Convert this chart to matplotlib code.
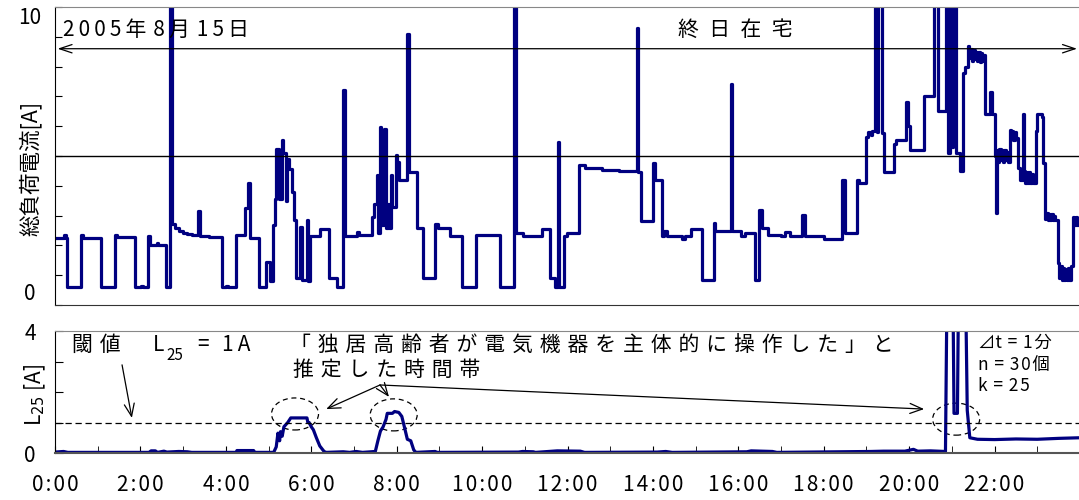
import numpy as np
import matplotlib.pyplot as plt
from matplotlib.patches import Ellipse

plt.rcParams['font.family'] = ['Noto Sans CJK JP', 'DejaVu Sans']

# 総負荷電流 [A] (time in hours, held until next point)
t1 = [0.00, 0.20, 0.25, 0.29, 0.61, 0.66, 1.07, 1.40, 1.45, 1.87,
      2.02, 2.06, 2.18, 2.22, 2.38, 2.42, 2.61, 2.69, 2.73, 2.80,
      2.90, 3.00, 3.10, 3.20, 3.35, 3.39, 3.60, 3.90]
a1 = [2.25, 2.35, 2.25, 0.60, 2.35, 2.25, 0.60, 2.35, 2.28, 0.60,
      0.65, 0.60, 2.33, 2.00, 2.08, 2.00, 0.60, 12.0, 2.72, 2.60,
      2.50, 2.42, 2.38, 2.34, 3.16, 2.30, 2.27, 0.60]

t2 = [4.00, 4.05, 4.24, 4.44, 4.53, 4.57, 4.77, 4.94, 5.03, 5.10,
      5.14, 5.18, 5.24, 5.31, 5.35, 5.40, 5.43, 5.47, 5.55, 5.60,
      5.64, 5.74, 5.78, 5.90, 5.93, 5.96, 6.20, 6.41, 6.60, 6.75,
      6.78, 7.08, 7.12]
a2 = [0.65, 0.60, 2.35, 3.25, 4.10, 2.25, 0.60, 1.45, 0.80, 2.70,
      3.55, 5.23, 3.55, 5.54, 5.10, 3.50, 4.90, 4.57, 3.80, 2.85,
      0.89, 2.62, 0.85, 2.85, 0.80, 2.30, 2.55, 0.89, 0.60, 7.20,
      2.30, 2.45, 2.35]

t3 = [7.43, 7.47, 7.53, 7.57, 7.60, 7.64, 7.70, 7.74, 7.79, 7.83,
      7.87, 7.90, 7.98, 8.01, 8.05, 8.25, 8.28, 8.47, 8.61, 8.90,
      8.96, 9.25, 9.53, 9.86, 10.43, 10.75, 10.79, 10.95, 11.40, 11.60,
      11.70, 11.77, 11.80, 11.92, 11.98]
a3 = [2.95, 3.40, 4.37, 2.40, 5.97, 2.70, 5.90, 2.60, 3.40, 2.60,
      4.37, 3.30, 5.03, 4.80, 4.20, 9.10, 4.45, 2.60, 0.89, 2.73,
      2.60, 2.30, 0.60, 2.35, 0.60, 12.0, 2.40, 2.30, 2.55, 0.89,
      0.60, 5.47, 0.60, 2.30, 2.40]

t4 = [12.27, 12.40, 12.80, 13.20, 13.62, 13.66, 13.72, 14.00, 14.05, 14.21,
      14.27, 14.32, 14.68, 14.76, 14.90, 15.15, 15.42, 15.46, 15.82, 15.85,
      16.06, 16.15, 16.40, 16.49, 16.55, 16.70, 17.00, 17.10, 17.20, 17.50,
      17.56, 18.00]
a4 = [4.70, 4.60, 4.52, 4.48, 9.30, 4.45, 2.83, 4.75, 4.20, 2.30,
      2.50, 2.30, 2.22, 2.30, 2.55, 0.85, 2.76, 2.50, 7.40, 2.50,
      2.30, 2.40, 0.85, 3.20, 2.60, 2.35, 2.30, 2.45, 2.30, 3.03,
      2.30, 2.20]

t5 = [18.43, 18.49, 18.78, 18.82, 19.00, 19.04, 19.10, 19.14, 19.20, 19.24,
      19.27, 19.37, 19.42, 19.65, 19.70, 19.92, 19.97, 20.02, 20.35, 20.57,
      20.67, 20.86, 20.92, 20.95, 21.00, 21.03, 21.10, 21.18, 21.25, 21.30]
a5 = [4.20, 2.43, 4.20, 4.10, 5.65, 5.80, 5.70, 5.85, 12.0, 5.80,
      12.0, 5.77, 4.47, 5.40, 5.53, 6.80, 6.00, 5.20, 7.00, 12.0,
      6.50, 12.0, 5.10, 12.0, 5.30, 12.0, 5.10, 4.50, 7.80, 8.00]

t6 = [21.38, 21.41, 21.44, 21.47, 21.50, 21.53, 21.56, 21.59, 21.62, 21.65,
      21.68, 21.71, 21.74, 21.78, 21.90, 21.93, 22.00, 22.03, 22.05, 22.08,
      22.11, 22.14, 22.17, 22.20, 22.23, 22.26, 22.29, 22.32, 22.35, 22.38,
      22.41, 22.44, 22.47, 22.50, 22.55, 22.60, 22.66, 22.69, 22.72, 22.75,
      22.78, 22.81, 22.84, 22.88, 22.91, 22.96, 23.00, 23.10, 23.14, 23.18,
      23.21, 23.24, 23.27, 23.30, 23.33, 23.36, 23.39, 23.42, 23.48, 23.51,
      23.54, 23.57, 23.60, 23.63, 23.66, 23.69, 23.72, 23.75, 23.78, 23.84,
      23.87, 23.90, 23.93, 23.96, 24.00]
a6 = [8.70, 8.30, 8.60, 8.20, 8.55, 8.25, 8.50, 8.20, 8.50, 8.15,
      8.45, 8.20, 8.40, 6.40, 7.15, 6.40, 5.00, 3.10, 5.20, 4.80,
      5.25, 4.85, 5.20, 4.80, 5.20, 4.85, 5.15, 4.80, 5.87, 5.60,
      5.85, 5.55, 5.80, 5.60, 4.60, 4.20, 6.40, 4.50, 4.10, 4.45,
      4.10, 4.45, 4.10, 4.40, 4.10, 5.85, 6.40, 6.30, 4.75, 2.90,
      3.10, 2.85, 3.05, 2.85, 3.05, 2.85, 3.00, 2.85, 1.40, 0.90,
      1.30, 0.85, 1.25, 0.85, 1.20, 0.85, 1.25, 0.85, 1.30, 2.95,
      2.70, 2.95, 2.70, 2.90, 2.75]

# L25 [A]
t_l25 = [0.00, 0.20, 0.30, 2.20, 2.25, 2.35, 2.40, 2.55, 2.62, 2.90,
         3.10, 3.20, 4.24, 4.26, 4.65, 4.68, 5.12, 5.18, 5.22, 5.26,
         5.28, 5.32, 5.36, 5.45, 5.52, 5.90, 5.92, 5.95, 6.00, 6.05,
         6.12, 6.20, 6.30, 6.35, 6.75, 6.90, 7.05, 7.20, 7.50, 7.56,
         7.62, 7.68, 7.75, 7.78, 7.90, 7.95, 8.05, 8.12, 8.18, 8.25,
         8.33, 8.40, 8.45, 8.90, 8.95, 10.85, 10.95, 11.20, 11.25, 11.76,
         12.30, 12.40, 14.10, 14.30, 14.45, 16.20, 16.30, 16.80, 16.90, 19.10,
         19.40, 19.90, 20.10, 20.20, 20.50, 20.85, 20.88, 21.03, 21.05, 21.13,
         21.15, 21.33, 21.36, 21.42, 21.60, 22.00, 22.50, 23.00, 23.50, 24.00]
l25 = [0.03, 0.05, 0.02, 0.02, 0.07, 0.07, 0.02, 0.06, 0.03, 0.05,
       0.04, 0.02, 0.02, 0.08, 0.08, 0.02, 0.02, 0.20, 0.65, 0.40,
       0.70, 0.55, 0.86, 1.00, 1.15, 1.15, 1.00, 1.00, 0.86, 0.76,
       0.50, 0.23, 0.05, 0.02, 0.04, 0.02, 0.05, 0.02, 0.05, 0.40,
       0.72, 0.85, 1.10, 1.30, 1.30, 1.36, 1.33, 1.20, 0.86, 0.45,
       0.40, 0.10, 0.02, 0.05, 0.02, 0.03, 0.05, 0.04, 0.02, 0.07,
       0.06, 0.02, 0.03, 0.05, 0.02, 0.04, 0.07, 0.05, 0.02, 0.05,
       0.06, 0.06, 0.12, 0.06, 0.07, 0.05, 4.50, 4.50, 1.30, 1.30,
       4.50, 4.50, 1.40, 0.50, 0.45, 0.44, 0.46, 0.45, 0.48, 0.50]

threshold = 1.0
hour_labels = ['%d:00' % h for h in range(0, 24, 2)]
# marked periods: (centre hour, centre L25)
marks = [(5.62, 1.28), (7.93, 1.25), (21.10, 1.11)]

t_total = t1 + t2 + t3 + t4 + t5 + t6
i_total = a1 + a2 + a3 + a4 + a5 + a6

navy = '#000080'
thin = '\u2009'
hair = '\u200a'
mid = '\u2004'


def spaced(s, gap):
    return gap.join(s)


fig = plt.figure(figsize=(10.79, 5.0), dpi=100)
ax1 = fig.add_axes([55/1079, 195/500, 1025/1079, 298/500])
ax2 = fig.add_axes([55/1079, 47/500, 1025/1079, 122/500])

# top panel
ax1.plot(t_total, i_total, drawstyle='steps-post', color=navy, lw=2.3)
ax1.axhline(5, color='black', lw=1)
ax1.set_xlim(0, 24)
ax1.set_ylim(0, 10)
ax1.set_xticks([])
ax1.set_yticks(range(11))
ax1.set_yticklabels(['0'] + [''] * 9 + ['10'])
ax1.tick_params(axis='y', direction='in', length=5, pad=18, labelsize=15)
for lab in ax1.get_yticklabels():
    lab.set_ha('center')
ax1.get_yticklabels()[0].set_va('bottom')
ax1.get_yticklabels()[-1].set_va('top')
ax1.spines['right'].set_visible(False)
ax1.spines['top'].set_color('#888888')
ax1.spines['bottom'].set_color('#333333')

ax1.annotate('', xy=(0.06, 8.6), xytext=(23.93, 8.6),
             arrowprops=dict(arrowstyle='<->, head_length=0.45, head_width=0.15',
                             mutation_scale=20, color='black', lw=0.9,
                             shrinkA=0, shrinkB=0))
date_txt = spaced('2005年', thin) + mid + spaced('8月', thin) + mid + spaced('15日', thin)
ax1.text(0.19, 9.23, date_txt, fontsize=15, ha='left', va='center')
ax1.text(15.93, 9.23, spaced('終日在宅', '\u2002'), fontsize=15,
         ha='center', va='center')

fig.text(30/1079, 1 - 168/500, '総負荷電流[A]', rotation=90, fontsize=15.5,
         ha='center', va='center')

# bottom panel
ax2.plot(t_l25, l25, color=navy, lw=2.3)
ax2.axhline(threshold, color='black', lw=0.9, ls=(0, (5, 3)))
ax2.set_xlim(0, 24)
ax2.set_ylim(0, 4)
ax2.set_yticks(range(5))
ax2.set_yticklabels(['0', '', '', '', '4'])
ax2.set_xticks(range(0, 24, 2))
ax2.set_xticklabels([spaced(s, hair) for s in hour_labels])
ax2.set_xticks(range(0, 25), minor=True)
ax2.tick_params(axis='y', direction='in', length=6, pad=18, labelsize=15)
ax2.tick_params(axis='x', which='both', direction='in', length=5, pad=15,
                labelsize=15)
for lab in ax2.get_yticklabels():
    lab.set_ha('center')
ax2.spines['right'].set_visible(False)
ax2.spines['top'].set_color('#888888')
ax2.spines['bottom'].set_color('#555555')
ax2.spines['bottom'].set_linewidth(1.5)

fig.text(35/1079, 1 - 395/500, 'L$_{25}$ [A]', rotation=90, fontsize=15,
         ha='center', va='center')

for cx, cy in marks:
    ax2.add_patch(Ellipse((cx, cy), 1.1, 1.05, fill=False, color='black',
                          lw=0.9, ls=(0, (4, 3))))

ax2.text(0.40, 3.54, spaced('閾値', mid), fontsize=15, va='center')
ax2.text(2.30, 3.54, 'L', fontsize=15, va='center')
ax2.text(2.62, 3.20, '25', fontsize=11, va='center')
ax2.text(3.33, 3.54, '=', fontsize=15, va='center')
ax2.text(3.91, 3.54, '1' + thin + 'A', fontsize=15, va='center')
ax2.annotate('', xy=(1.80, 1.15), xytext=(1.57, 2.89),
             arrowprops=dict(arrowstyle='->, head_length=0.5, head_width=0.2',
                             mutation_scale=18, color='black', lw=0.9,
                             shrinkA=0, shrinkB=0))

ax2.text(5.50, 3.54, spaced('「独居高齢者が電気機器を主体的に操作した」と', mid),
         fontsize=15, va='center')
ax2.text(5.57, 2.72, spaced('推定した時間帯', mid), fontsize=15, va='center')
for tx, ty in [(6.35, 1.44), (7.82, 1.84), (20.35, 1.44)]:
    ax2.annotate('', xy=(tx, ty), xytext=(7.61, 2.23),
                 arrowprops=dict(arrowstyle='->, head_length=0.5, head_width=0.2',
                                 mutation_scale=18, color='black', lw=0.9,
                                 shrinkA=0, shrinkB=0))

ax2.text(21.62, 3.60, '⊿t' + mid + '=' + mid + '1' + hair + '分', fontsize=12.5, va='center')
ax2.text(21.62, 2.89, 'n' + mid + '=' + mid + '3' + hair + '0' + hair + '個', fontsize=12.5, va='center')
ax2.text(21.62, 2.20, 'k' + mid + '=' + mid + '2' + hair + '5', fontsize=12.5, va='center')

fig.savefig('out.png', dpi=100)
